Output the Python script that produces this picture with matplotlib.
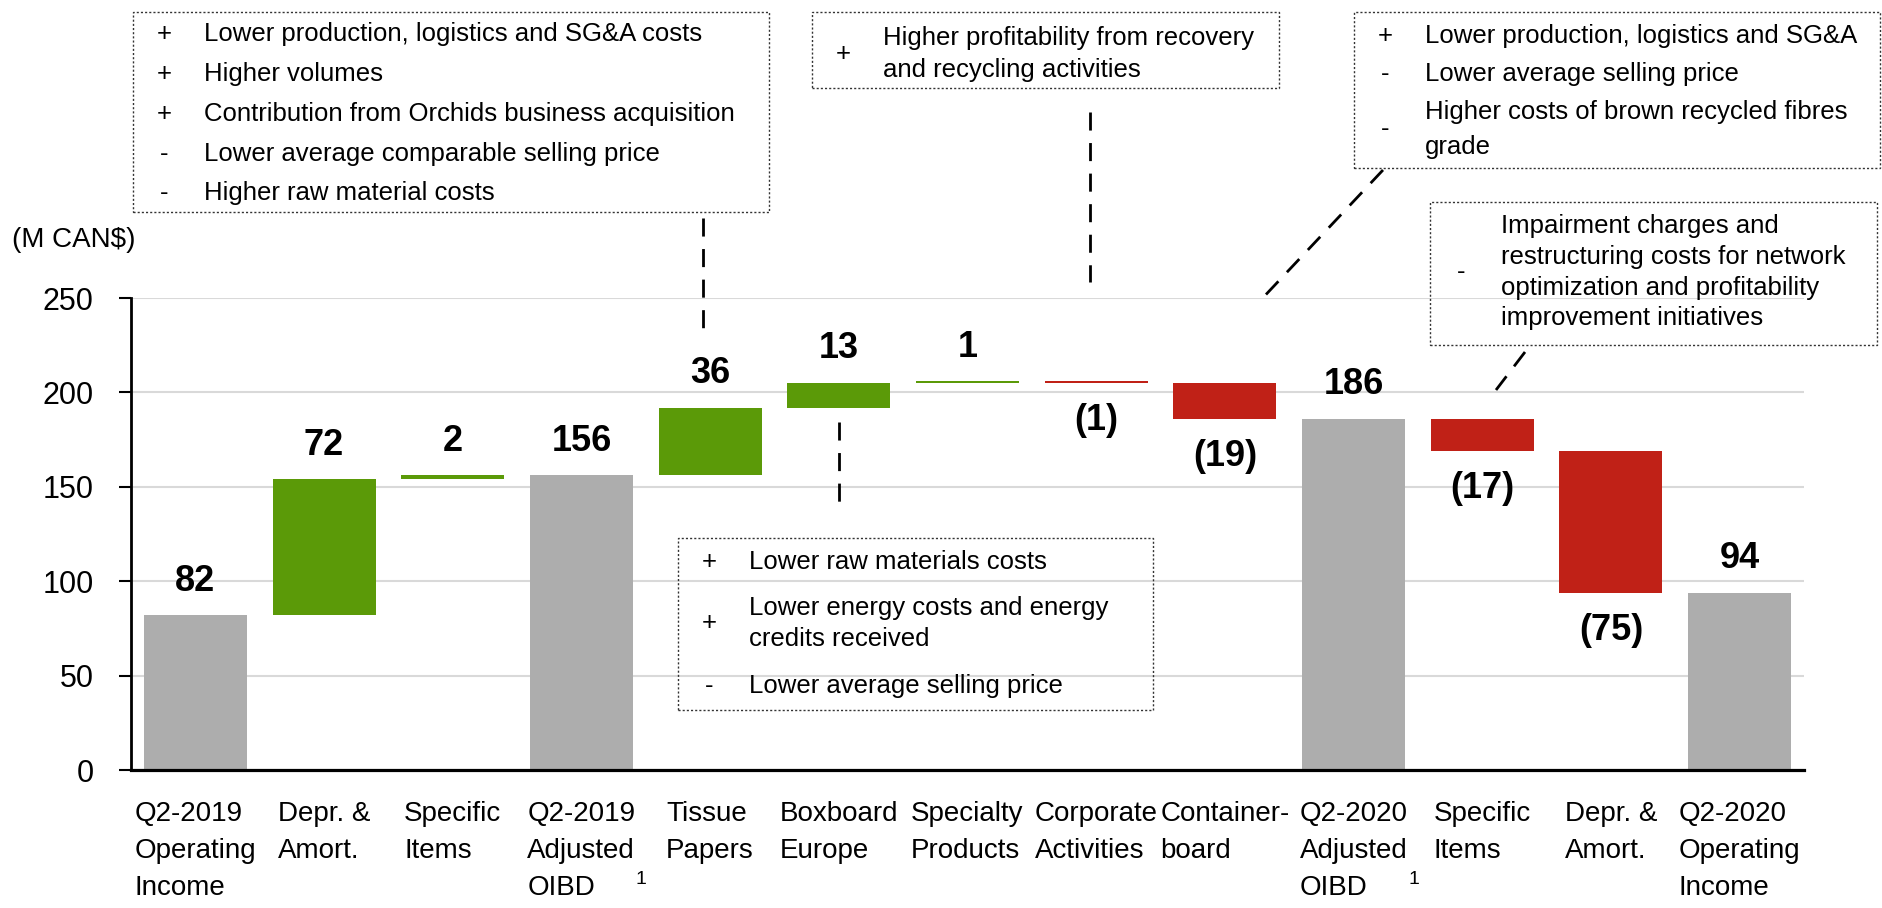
import matplotlib
matplotlib.use('Agg')
import matplotlib.pyplot as plt
from matplotlib.patches import Rectangle
from matplotlib.lines import Line2D
from matplotlib import font_manager

# data
categories = ['Q2-2019\nOperating\nIncome', 'Depr. &\nAmort.', 'Specific\nItems',
              'Q2-2019\nAdjusted\nOIBD', 'Tissue\nPapers', 'Boxboard\nEurope',
              'Specialty\nProducts', 'Corporate\nActivities', 'Container-\nboard',
              'Q2-2020\nAdjusted\nOIBD', 'Specific\nItems', 'Depr. &\nAmort.',
              'Q2-2020\nOperating\nIncome']
values = [82, 72, 2, 156, 36, 13, 1, -1, -19, 186, -17, -75, 94]
is_total = [True, False, False, True, False, False, False, False, False,
            True, False, False, True]
footnote_idx = [3, 9]
yticks = [0, 50, 100, 150, 200, 250]

# comment boxes: (sign, lines)
box_tissue = [('+', ['Lower production, logistics and SG&A costs']),
              ('+', ['Higher volumes']),
              ('+', ['Contribution from Orchids business acquisition']),
              ('-', ['Lower average comparable selling price']),
              ('-', ['Higher raw material costs'])]
box_recovery = [('+', ['Higher profitability from recovery', 'and recycling activities'])]
box_container = [('+', ['Lower production, logistics and SG&A']),
                 ('-', ['Lower average selling price']),
                 ('-', ['Higher costs of brown recycled fibres', 'grade'])]
box_specific = [('-', ['Impairment charges and', 'restructuring costs for network',
                       'optimization and profitability', 'improvement initiatives'])]
box_boxboard = [('+', ['Lower raw materials costs']),
                ('+', ['Lower energy costs and energy', 'credits received']),
                ('-', ['Lower average selling price'])]

GRAY = '#ADADAD'
GREEN = '#5B9A08'
RED = '#C02117'

installed = {f.name for f in font_manager.fontManager.ttflist}
narrow = 'Liberation Sans Narrow' if 'Liberation Sans Narrow' in installed else 'Liberation Sans'
plt.rcParams['font.family'] = [narrow, 'DejaVu Sans']

W, H = 1883, 908
fig = plt.figure(figsize=(W / 100, H / 100), dpi=100)
ax = fig.add_axes([131 / W, 1 - 770 / H, (1804 - 131) / W, (770 - 298) / H])

# waterfall
running = 0
bottoms, heights, colors = [], [], []
for v, tot in zip(values, is_total):
    if tot:
        bottoms.append(0)
        heights.append(v)
        colors.append(GRAY)
        running = v
    else:
        bottoms.append(running if v >= 0 else running + v)
        heights.append(abs(v))
        colors.append(GREEN if v >= 0 else RED)
        running += v

x = list(range(len(values)))
ax.bar(x, heights, bottom=bottoms, width=0.8, color=colors, zorder=3)

for i, v in enumerate(values):
    top = bottoms[i] + heights[i]
    if v >= 0:
        ax.annotate(f'{v}', xy=(i, top), xytext=(0, 34), textcoords='offset pixels',
                    ha='center', va='center', fontsize=26, fontweight='bold')
    else:
        ax.annotate(f'({-v})', xy=(i, bottoms[i]), xytext=(0, -38),
                    textcoords='offset pixels', ha='center', va='center',
                    fontsize=26, fontweight='bold')

ax.set_xlim(-0.5, len(values) - 0.5)
ax.set_ylim(0, 250)
ax.set_yticks(yticks)
ax.set_xticks(x)
ax.set_xticklabels(categories, multialignment='left', linespacing=1.55)
ax.tick_params(axis='x', length=0, pad=22, labelsize=20)
ax.tick_params(axis='y', length=9, width=1.5, pad=18, labelsize=22)
ax.grid(axis='y', color='#D9D9D9', lw=1.5, zorder=0)
for s in ['top', 'right']:
    ax.spines[s].set_visible(False)
ax.spines['left'].set_linewidth(2)
ax.spines['bottom'].set_linewidth(2.3)
ax.spines['bottom'].set_zorder(4)

# footnote marks next to the adjusted OIBD labels
for i in footnote_idx:
    ax.annotate('1', xy=(i, 0), xycoords=('data', 'axes fraction'), xytext=(60, -110),
                textcoords='offset pixels', ha='center', va='center', fontsize=14)

fig.text(12 / W, 1 - 240 / H, '(M CAN$)', ha='left', va='center', fontsize=20)


def px(xp, yp):
    return xp / W, 1 - yp / H


def comment_box(rect, items, ys, sign_dx=31, text_dx=71, fs=18.5):
    l, t, r, b = rect
    fig.patches.append(Rectangle(px(l, b), (r - l) / W, (b - t) / H, fill=False,
                                 transform=fig.transFigure, lw=1, ec='#333333',
                                 ls=(0, (1.5, 1.5))))
    k = 0
    for sign, lines in items:
        row = ys[k:k + len(lines)]
        k += len(lines)
        fig.text(*px(l + sign_dx, sum(row) / len(row)), sign, ha='center', va='center',
                 fontsize=fs)
        for yy, line in zip(row, lines):
            fig.text(*px(l + text_dx, yy), line, ha='left', va='center', fontsize=fs)


comment_box((133, 12, 769, 212), box_tissue, [34, 74, 114, 154, 193])
comment_box((812, 12, 1279, 88), box_recovery, [38, 70])
comment_box((1354, 12, 1880, 168), box_container, [36, 74, 112, 147])
comment_box((1430, 202, 1877, 345), box_specific, [226, 257, 288, 318])
comment_box((678, 538, 1153, 710), box_boxboard, [562, 608, 639, 686])


def connector(p0, p1):
    (x0, y0), (x1, y1) = px(*p0), px(*p1)
    fig.lines.append(Line2D([x0, x1], [y0, y1], transform=fig.transFigure, color='black',
                            lw=2, ls=(0, (6.5, 4.5))))


connector((703, 218), (703, 333))
connector((1090, 112), (1090, 282))
connector((839, 422), (839, 505))
connector((1383, 170), (1258, 303))
connector((1525, 352), (1496, 390))

fig.savefig('out.png', dpi=100)
